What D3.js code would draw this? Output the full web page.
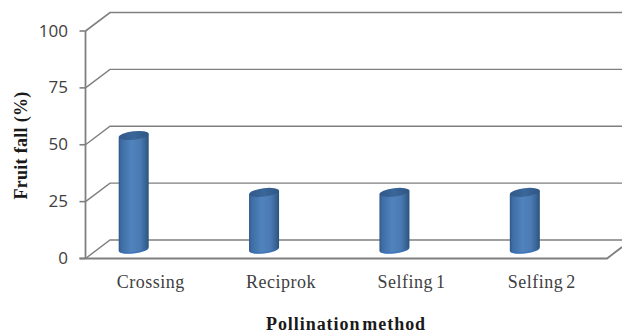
<!DOCTYPE html>
<html>
<head>
<meta charset="utf-8">
<script src="https://cdn.jsdelivr.net/npm/d3@7"></script>
<style>
html,body{margin:0;padding:0;background:#fff;overflow:hidden}
svg{display:block}
</style>
</head>
<body>
<div id="chart"></div>
<script>
const categories = ["Crossing", "Reciprok", "Selfing 1", "Selfing 2"];
const fruitFall = [50, 25, 25, 25];
const yTicks = [0, 25, 50, 75, 100];
const yTitle = "Fruit fall (%)";
const xTitle = "Pollination method";

const width = 622, height = 333;
const front = {left: 85.5, right: 607, top: 31, bottom: 258.5};
const depth = {dx: 24.5, dy: -18.5};
const barWidth = 30, barShift = -17, ellipseRy = 4.2, ellipseTilt = -7;
const gridColor = "#7f7f7f", textColor = "#404040";

const x = d3.scaleBand().domain(categories).range([front.left, front.right]);
const y = d3.scaleLinear().domain([0, 100]).range([front.bottom, front.top]);

const svg = d3.select("#chart").append("svg").attr("width", width).attr("height", height);

const defs = svg.append("defs");
const bodyGrad = defs.append("linearGradient").attr("id", "barBody");
[[0, "#2f5585"], [0.08, "#3d6ca3"], [0.42, "#5083bd"], [0.72, "#4a7ab2"], [0.92, "#35608f"], [1, "#2c4e78"]]
  .forEach(([o, c]) => bodyGrad.append("stop").attr("offset", o).attr("stop-color", c));
const capGrad = defs.append("linearGradient").attr("id", "barCap");
[[0, "#32598a"], [0.5, "#3a6699"], [1, "#2e5684"]]
  .forEach(([o, c]) => capGrad.append("stop").attr("offset", o).attr("stop-color", c));

// Back-wall gridlines with the slanted returns to the front axis
const grid = svg.append("g").attr("fill", "none").attr("stroke", gridColor);
grid.selectAll("path.wall").data(yTicks).join("path").attr("class", "wall")
  .attr("stroke-width", d => d === 100 ? 1.6 : 1.4)
  .attr("d", d => `M${front.left},${y(d)}L${front.left + depth.dx},${y(d) + depth.dy}H${width}`);

// Floor front edge and its right-hand return
grid.append("path").attr("stroke-width", 1.8)
  .attr("d", `M${front.left - 6},${y(0)}H${front.right}L${width},${y(0) - 11.5}`);

// Vertical axis with outward tick marks
grid.append("path").attr("stroke-width", 1.8)
  .attr("d", `M${front.left},${y(100)}V${y(0)}`);
grid.selectAll("path.tick").data(yTicks).join("path").attr("class", "tick")
  .attr("stroke-width", 1.6)
  .attr("d", d => `M${front.left - 6},${y(d)}H${front.left}`);

// Cylinders stand halfway into the floor depth
const bars = svg.append("g").selectAll("g").data(categories).join("g")
  .attr("transform", c => `translate(${x(c) + x.bandwidth() / 2 + barShift},0)`);
const barBase = y(0) + depth.dy / 2;
const barTop = i => y(fruitFall[i]) + depth.dy / 2;
const r = barWidth / 2;
const tiltRad = ellipseTilt * Math.PI / 180;
const rise = r * Math.tan(-tiltRad);

bars.append("path")
  .attr("fill", "url(#barBody)")
  .attr("d", (c, i) =>
    `M${-r},${barTop(i) + rise}L${r},${barTop(i) - rise}L${r},${barBase - rise}` +
    `A${r},${ellipseRy} ${ellipseTilt} 0 1 ${-r},${barBase + rise}Z`);
bars.append("path")
  .attr("fill", "none").attr("stroke", "#2f6fc0").attr("stroke-width", 1).attr("opacity", 0.7)
  .attr("d", `M${r - 1},${barBase - rise + 0.5}A${r},${ellipseRy} ${ellipseTilt} 0 1 ${-r + 1},${barBase + rise + 0.5}`);
bars.append("ellipse")
  .attr("rx", r).attr("ry", ellipseRy)
  .attr("fill", "url(#barCap)")
  .attr("transform", (c, i) => `translate(0,${barTop(i)}) rotate(${ellipseTilt})`);

// Value labels on the vertical axis
svg.append("g").selectAll("text").data(yTicks).join("text")
  .attr("x", front.left - 17.5).attr("y", d => y(d) + 1)
  .attr("text-anchor", "end").attr("dominant-baseline", "middle")
  .attr("font-family", "'Open Sans', sans-serif").attr("font-size", 17)
  .attr("fill", textColor).text(d => d);

// Category labels
svg.append("g").selectAll("text").data(categories).join("text")
  .attr("x", c => x(c) + x.bandwidth() / 2).attr("y", 288)
  .attr("text-anchor", "middle")
  .attr("font-family", "'Liberation Serif', serif").attr("font-size", 18)
  .attr("letter-spacing", 0.5).attr("word-spacing", -2)
  .attr("fill", textColor).text(c => c);

// Axis titles
svg.append("text")
  .attr("transform", "translate(27,145.5) rotate(-90)")
  .attr("text-anchor", "middle")
  .attr("font-family", "'Liberation Serif', serif").attr("font-size", 18).attr("font-weight", "bold")
  .attr("letter-spacing", 0.3)
  .attr("fill", "#1a1a1a").text(yTitle);
svg.append("text")
  .attr("x", 346).attr("y", 330)
  .attr("text-anchor", "middle")
  .attr("font-family", "'Liberation Serif', serif").attr("font-size", 18).attr("font-weight", "bold")
  .attr("letter-spacing", 0.95).attr("word-spacing", -3.5)
  .attr("fill", "#1a1a1a").text(xTitle);
</script>
</body>
</html>
